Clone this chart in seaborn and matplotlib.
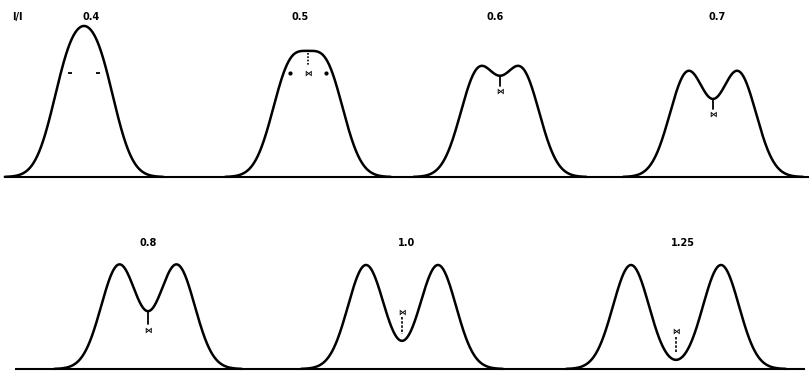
import numpy as np
import pandas as pd
import matplotlib
matplotlib.use("Agg")
import matplotlib.pyplot as plt
import seaborn as sns

# Chromatographic resolution values shown for each pair of equal Gaussian peaks
resolutions_top = [0.4, 0.5, 0.6, 0.7]
resolutions_bottom = [0.8, 1.0, 1.25]
labels_top = ["0.4", "0.5", "0.6", "0.7"]
labels_bottom = ["0.8", "1.0", "1.25"]
row_label = "I/I"

# Layout (pixels on the 809 x 377 canvas)
W, H = 809, 377
SIGMA_PX = 18.0          # one standard deviation, horizontally
UNIT_PX = 104.0          # one single-peak height, vertically
centers_top_px = [84, 308, 500, 713]
centers_bottom_px = [148, 402, 676]
label_x_top_px = [91, 300, 495, 717]
label_x_bottom_px = [148, 407, 683]
baseline_top_px = 177     # from top
baseline_bottom_px = 369  # from top

sns.set_theme(style="white")
plt.rcParams["font.family"] = ["DejaVu Sans"]

fig = plt.figure(figsize=(W / 100, H / 100), dpi=100)
fig.patch.set_facecolor("white")


def make_axes(baseline_from_top, ylo, yhi):
    base = H - baseline_from_top
    bottom = base + ylo * UNIT_PX
    height = (yhi - ylo) * UNIT_PX
    ax = fig.add_axes([0, bottom / H, 1, height / H])
    ax.set_xlim(0, W / SIGMA_PX)
    ax.set_ylim(ylo, yhi)
    ax.set_axis_off()
    return ax


def pair_curve(R, center):
    sep = 4.0 * R  # peak separation in sigma units
    half = sep / 2 + 3.6
    x = np.linspace(-half, half, 600)
    y = np.exp(-(x - sep / 2) ** 2 / 2) + np.exp(-(x + sep / 2) ** 2 / 2)
    return pd.DataFrame({"x": x + center, "y": y, "R": R})


def draw_row(ax, resolutions, labels, centers_px, label_px, label_y, x_extent):
    frames = [pair_curve(R, c / SIGMA_PX) for R, c in zip(resolutions, centers_px)]
    df = pd.concat(frames, ignore_index=True)
    sns.lineplot(data=df, x="x", y="y", units="R", estimator=None,
                 color="black", linewidth=1.8, ax=ax, legend=False, sort=False)
    ax.plot([x_extent[0] / SIGMA_PX, x_extent[1] / SIGMA_PX], [0, 0],
            color="black", linewidth=1.5, solid_capstyle="butt")
    for lab, lx in zip(labels, label_px):
        ax.text(lx / SIGMA_PX, label_y, lab, ha="center", va="center",
                fontsize=7, fontweight="bold", color="black")
    ax.set_xlabel("")
    ax.set_ylabel("")


def valley(R):
    return 2 * np.exp(-(2 * R) ** 2 / 2)


def bowtie(ax, x, y):
    ax.text(x, y, "⋈", ha="center", va="center", fontsize=5.5,
            fontweight="bold", color="black")


ax_top = make_axes(baseline_top_px, -0.2, 1.68)
ax_bot = make_axes(baseline_bottom_px, -0.05, 1.4)

label_y_top = (baseline_top_px - 17) / UNIT_PX
label_y_bot = (baseline_bottom_px - 243) / UNIT_PX

draw_row(ax_top, resolutions_top, labels_top, centers_top_px, label_x_top_px,
         label_y_top, (5, 809))
draw_row(ax_bot, resolutions_bottom, labels_bottom, centers_bottom_px,
         label_x_bottom_px, label_y_bot, (15, 805))

ax_top.text(17 / SIGMA_PX, label_y_top, row_label,
            ha="center", va="center", fontsize=7, fontweight="bold", color="black")

# Component peak tops for R = 0.4 and 0.5
c = centers_top_px[0] / SIGMA_PX
ax_top.plot([c - 0.8, c + 0.8], [1.0, 1.0], ls="none", marker="_",
            markersize=3.5, mew=1.3, color="black")
c = centers_top_px[1] / SIGMA_PX
ax_top.plot([c - 1.0, c + 1.0], [1.0, 1.0], ls="none", marker="o",
            markersize=2.0, color="black")
bowtie(ax_top, c, 1.0)
ax_top.plot([c, c], [1.19, 1.07], ls=(0, (1, 1)), lw=1.2, color="black")

# Valley depth markers
for R, cpx in zip(resolutions_top[2:], centers_top_px[2:]):
    c = cpx / SIGMA_PX
    v = valley(R)
    ax_top.plot([c, c], [v, v - 0.1], lw=1.3, color="black")
    bowtie(ax_top, c, v - 0.15)

c = centers_bottom_px[0] / SIGMA_PX
v = valley(resolutions_bottom[0])
ax_bot.plot([c, c], [v, v - 0.12], lw=1.3, color="black")
bowtie(ax_bot, c, v - 0.18)

for R, cpx, top in zip(resolutions_bottom[1:], centers_bottom_px[1:], [0.55, 0.36]):
    c = cpx / SIGMA_PX
    bowtie(ax_bot, c, top)
    ax_bot.plot([c, c], [top - 0.05, valley(R) + 0.07], ls=(0, (1.5, 1)),
                lw=1.2, color="black")

fig.savefig("out.png", dpi=100, facecolor="white")
